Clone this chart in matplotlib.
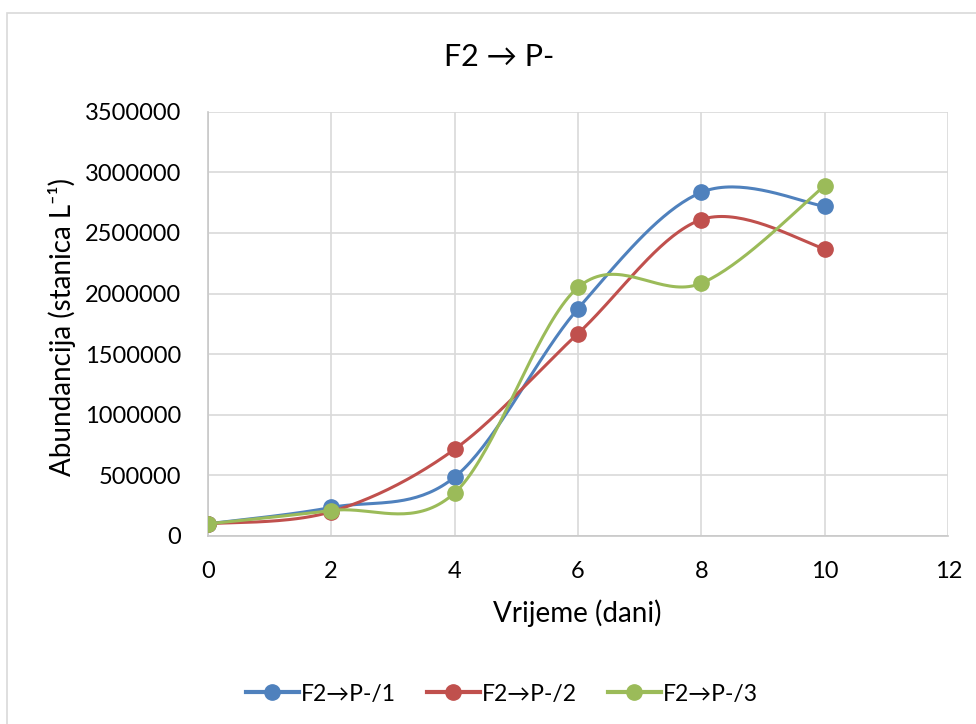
import numpy as np
import matplotlib
matplotlib.use("Agg")
import matplotlib.pyplot as plt
from matplotlib.lines import Line2D
from matplotlib.patches import Rectangle

plt.rcParams['font.family'] = ['Lato', 'DejaVu Sans']

# Data
days = [0, 2, 4, 6, 8, 10]
serija_1 = [100000, 235000, 485000, 1875000, 2835000, 2720000]
serija_2 = [100000, 200000, 715000, 1670000, 2610000, 2370000]
serija_3 = [100000, 210000, 355000, 2050000, 2085000, 2890000]
labels = ['F2→P-/1', 'F2→P-/2', 'F2→P-/3']
colors = ['#4F81BD', '#C0504D', '#9BBB59']

x_ticks = [0, 2, 4, 6, 8, 10, 12]
y_ticks = [0, 500000, 1000000, 1500000, 2000000, 2500000, 3000000, 3500000]


def smooth(xs, ys, n=40):
    # Excel-like smoothed line: cubic Bezier, control points from neighbours / 6
    p = np.column_stack([xs, ys]).astype(float)
    pe = np.vstack([p[0], p, p[-1]])
    t = np.linspace(0, 1, n)[1:, None]
    out = [p[:1]]
    for i in range(len(p) - 1):
        p0, p3 = p[i], p[i + 1]
        c1 = p0 + (pe[i + 2] - pe[i]) / 6
        c2 = p3 - (pe[i + 3] - pe[i + 1]) / 6
        seg = ((1 - t) ** 3) * p0 + 3 * ((1 - t) ** 2) * t * c1 \
            + 3 * (1 - t) * (t ** 2) * c2 + (t ** 3) * p3
        out.append(seg)
    return np.vstack(out)


fig = plt.figure(figsize=(9.76, 7.24), dpi=100)
fig.patches.append(Rectangle((7 / 976, -0.1), 1.2, (724 - 13) / 724 + 0.1,
                             transform=fig.transFigure, fill=False,
                             edgecolor='#D9D9D9', linewidth=1.2))

ax = fig.add_axes([0.2128, 0.2597, 0.7588, 0.5860])

for k, (ys, c) in enumerate(zip([serija_1, serija_2, serija_3], colors)):
    curve = smooth(days, ys)
    ax.plot(curve[:, 0], curve[:, 1], color=c, lw=2.2, zorder=3 + 2 * k,
            solid_capstyle='round')
    ax.plot(days, ys, 'o', color=c, markersize=11, zorder=4 + 2 * k)

ax.set_xlim(0, 12)
ax.set_ylim(0, 3500000)
ax.set_xticks(x_ticks)
ax.set_yticks(y_ticks)
ax.set_yticklabels([str(v) for v in y_ticks])
ax.tick_params(length=0, labelsize=17, colors='black')
ax.tick_params(axis='y', pad=19)
ax.tick_params(axis='x', pad=18)
ax.grid(True, color='#D9D9D9', lw=1.2, zorder=0)
ax.set_axisbelow(True)
for side in ['top', 'right']:
    ax.spines[side].set_visible(False)
for side in ['left', 'bottom']:
    ax.spines[side].set_color('#C8C8C8')
    ax.spines[side].set_linewidth(1.2)

fig.text(499 / 976, 1 - 57 / 724, 'F2 → P-', ha='center', va='center', fontsize=22)
fig.text(62 / 976, 1 - 327 / 724, 'Abundancija (stanica L⁻¹)', rotation=90,
         ha='center', va='center', fontsize=20)
fig.text(577 / 976, 1 - 613 / 724, 'Vrijeme (dani)', ha='center', va='center',
         fontsize=20)

handles = [Line2D([], [], color=c, lw=3, marker='o', markersize=11) for c in colors]
fig.legend(handles, labels, loc='center', bbox_to_anchor=(502 / 976, 1 - 694 / 724),
           ncol=3, frameon=False, fontsize=16.5, handlelength=2.3,
           handletextpad=0.1, columnspacing=1.35)

fig.savefig('out.png', dpi=100)
